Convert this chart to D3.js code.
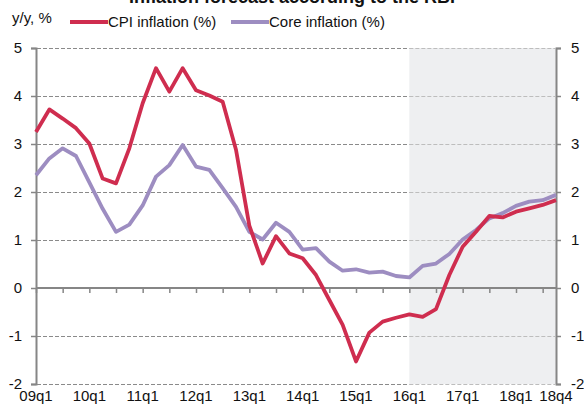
<!DOCTYPE html>
<html>
<head>
<meta charset="utf-8">
<script src="https://cdn.jsdelivr.net/npm/d3@7"></script>
<style>
  body { margin: 0; background: white; }
  text { font-family: "Liberation Sans", Arial, sans-serif; }
</style>
</head>
<body>
<div id="container"></div>
<script>
let w = 584;
let h = 405;

// quarters 09q1 .. 18q4
let quarters = [];
for (let y = 9; y <= 18; y++) {
  for (let q = 1; q <= 4; q++) quarters.push(String(y).padStart(2, "0") + "q" + q);
}

let cpi = [3.25, 3.72, 3.53, 3.33, 3.01, 2.28, 2.18, 2.91, 3.85, 4.58,
  4.09, 4.58, 4.12, 4.01, 3.88, 2.88, 1.3, 0.51, 1.08, 0.72,
  0.62, 0.27, -0.25, -0.77, -1.53, -0.93, -0.7, -0.62, -0.55, -0.6,
  -0.44, 0.27, 0.86, 1.17, 1.5, 1.47, 1.59, 1.66, 1.73, 1.83];

let core = [2.35, 2.7, 2.91, 2.75, 2.2, 1.65, 1.17, 1.32, 1.72, 2.32,
  2.56, 2.98, 2.53, 2.46, 2.08, 1.69, 1.17, 1.01, 1.36, 1.17,
  0.8, 0.83, 0.55, 0.36, 0.39, 0.32, 0.34, 0.25, 0.22, 0.46,
  0.51, 0.71, 1.01, 1.21, 1.45, 1.56, 1.71, 1.8, 1.83, 1.94];

let xLabels = ["09q1", "10q1", "11q1", "12q1", "13q1", "14q1", "15q1", "16q1", "17q1", "18q1", "18q4"];
let yTicks = [-2, -1, 0, 1, 2, 3, 4, 5];
let forecastStart = "16q1";

let cpiColor = "#cf2d4f";
let coreColor = "#9d8dc1";
let axisColor = "#868686";

let viz = d3.select("#container")
  .append("svg")
  .attr("width", w)
  .attr("height", h);

let xScale = d3.scalePoint().domain(quarters).range([36, 556]);
let yScale = d3.scaleLinear().domain([-2, 5]).range([384, 48]);

// forecast shading
viz.append("rect")
  .attr("x", xScale(forecastStart))
  .attr("y", yScale(5))
  .attr("width", xScale("18q4") - xScale(forecastStart))
  .attr("height", yScale(-2) - yScale(5))
  .attr("fill", "#eeeff1");

// left axis
let leftAxis = d3.axisLeft(yScale).tickValues(yTicks).tickSize(5).tickPadding(9).tickFormat(d => String(d));
let leftG = viz.append("g").attr("transform", "translate(" + xScale("09q1") + ",0)").call(leftAxis);

// right axis
let rightAxis = d3.axisRight(yScale).tickValues(yTicks).tickSize(5).tickPadding(10).tickFormat(d => String(d));
let rightG = viz.append("g").attr("transform", "translate(" + xScale("18q4") + ",0)").call(rightAxis);

// zero axis with ticks every two quarters
let xAxis = d3.axisBottom(xScale)
  .tickValues(quarters.filter((d, i) => i % 2 == 0))
  .tickSize(5)
  .tickFormat("");
let xG = viz.append("g").attr("transform", "translate(0," + yScale(0) + ")").call(xAxis);

[leftG, rightG, xG].forEach(g => {
  g.select(".domain").attr("stroke", axisColor).attr("stroke-width", 2);
  g.selectAll(".tick line").attr("stroke", axisColor).attr("stroke-width", 1.5);
  g.selectAll(".tick text").attr("fill", "#111").style("font-size", "15px")
    .style("font-family", "'Liberation Sans', Arial, sans-serif");
});
xG.select(".domain").attr("d", "M" + xScale("09q1") + ",0H" + xScale("18q4"));

// gridlines (lighter inside the forecast area)
let gridRows = yTicks.filter(d => d != 0);
let gridSegments = [
  { x1: xScale("09q1") + 1, x2: xScale(forecastStart), color: "#8a8a8a" },
  { x1: xScale(forecastStart), x2: xScale("18q4") - 1, color: "#bdbdbd" }
];
let gridG = viz.append("g").attr("class", "gridG");
gridSegments.forEach(seg => {
  gridG.selectAll(null).data(gridRows).enter()
    .append("path")
    .attr("d", d => "M" + seg.x1 + "," + (Math.round(yScale(d)) + 0.5) + "H" + seg.x2)
    .attr("fill", "none")
    .attr("stroke", seg.color)
    .attr("stroke-width", 1)
    .attr("stroke-dasharray", "4,2");
});

// x labels
viz.selectAll(".xlab").data(xLabels).enter()
  .append("text")
  .attr("x", d => xScale(d))
  .attr("y", 401)
  .attr("text-anchor", "middle")
  .attr("font-size", "15px")
  .attr("fill", "#111")
  .text(d => d);

// lines
let lineGen = d3.line()
  .x((d, i) => xScale(quarters[i]))
  .y(d => yScale(d));

viz.append("path")
  .attr("d", lineGen(core))
  .attr("fill", "none")
  .attr("stroke", coreColor)
  .attr("stroke-width", 3.8)
  .attr("stroke-linejoin", "round");

viz.append("path")
  .attr("d", lineGen(cpi))
  .attr("fill", "none")
  .attr("stroke", cpiColor)
  .attr("stroke-width", 3.8)
  .attr("stroke-linejoin", "round");

// title (cut off at the top)
viz.append("text")
  .attr("x", 292)
  .attr("y", 3)
  .attr("text-anchor", "middle")
  .attr("font-size", "18px")
  .attr("font-weight", "bold")
  .attr("fill", "#111")
  .text("Inflation forecast according to the RBI");

// legend
viz.append("text")
  .attr("x", 12)
  .attr("y", 23)
  .attr("font-size", "15px")
  .attr("fill", "#111")
  .text("y/y, %");

let legend = [
  { name: "CPI inflation (%)", color: cpiColor, x: 70 },
  { name: "Core inflation (%)", color: coreColor, x: 231 }
];
let lg = viz.selectAll(".legend").data(legend).enter().append("g");
lg.append("line")
  .attr("x1", d => d.x)
  .attr("x2", d => d.x + 38)
  .attr("y1", 22)
  .attr("y2", 22)
  .attr("stroke", d => d.color)
  .attr("stroke-width", 4);
lg.append("text")
  .attr("x", d => d.x + 38)
  .attr("y", 27)
  .attr("font-size", "15px")
  .attr("fill", "#111")
  .text(d => d.name);
</script>
</body>
</html>
